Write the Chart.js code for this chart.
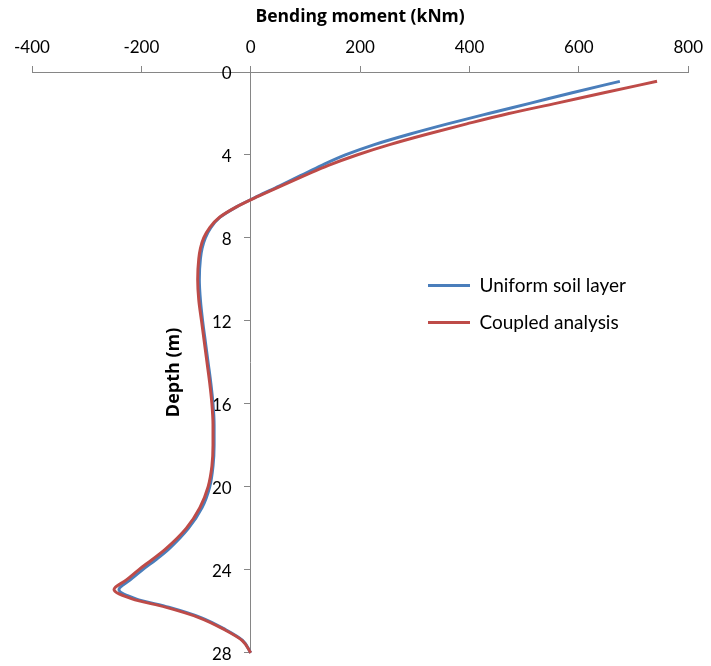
<!DOCTYPE html>
<html>
<head>
<meta charset="utf-8">
<script src="https://cdn.jsdelivr.net/npm/chart.js@4/dist/chart.umd.min.js"></script>
<style>
  html, body { margin: 0; padding: 0; background: #fff; }
  #wrap { width: 711px; height: 666px; }
</style>
</head>
<body>
<div id="wrap"><canvas id="c" width="711" height="666"></canvas></div>
<script>
// Depth below the pile head (m)
const depth = [0.45, 1, 1.5, 2, 2.5, 3, 3.5, 4, 4.5, 5, 5.5, 6, 6.5, 7, 7.5, 8, 8.5, 9,
  10, 11, 12, 13, 14, 15, 16, 17, 18, 19, 20, 21, 22, 23, 23.5, 24, 24.5, 24.95,
  25.4, 25.8, 26.3, 26.9, 27.4, 28];

// Bending moment (kNm) - uniform soil layer
const uniformMoment = [675, 588, 512, 435, 360, 290, 226, 173, 130, 91, 52, 12, -26, -56, -73, -83, -89, -92,
  -94, -92, -88, -83, -78, -73, -69, -67, -67, -69, -75, -89, -114, -150, -173, -198, -221, -241,
  -210, -150, -91, -45, -15, 0];

// Bending moment (kNm) - coupled analysis
const coupledMoment = [743, 646, 560, 472, 395, 322, 254, 194, 142, 98, 55, 13, -26, -57, -75, -86, -92, -95,
  -97, -95, -90, -85, -80, -75, -71, -69, -69, -71, -78, -93, -118, -156, -180, -205, -228, -250,
  -217, -156, -95, -47, -16, 0];

const seriesNames = ['Uniform soil layer', 'Coupled analysis'];
const seriesColors = ['#4A7EBB', '#BE4B48'];

const xTitle = 'Bending moment (kNm)';
const yTitle = 'Depth (m)';

const FONT = 'Lato';
const TITLE_FONT = 'Open Sans';
const AXIS_GREY = '#868686';

const toPoints = (vals) => vals.map((v, i) => ({ x: v, y: depth[i] }));

// Places the legend inside the plot, to the right of the curves
const legendPlacer = {
  id: 'legendPlacer',
  afterLayout(chart) {
    const lg = chart.legend;
    if (!lg) return;
    const w = lg.width;
    lg.left = 410;
    lg.top = 258;
    lg.right = lg.left + w;
    lg.height = 100;
    lg.bottom = lg.top + lg.height;
  }
};

// Rotated title for the depth axis, drawn beside the tick labels
const depthTitle = {
  id: 'depthTitle',
  afterDraw(chart) {
    const { ctx, scales: { x, y } } = chart;
    ctx.save();
    ctx.font = 'bold 18px "' + TITLE_FONT + '"';
    ctx.fillStyle = '#000';
    ctx.textAlign = 'center';
    ctx.textBaseline = 'middle';
    ctx.translate(x.getPixelForValue(0) - 77, (y.top + y.bottom) / 2 + 10);
    ctx.rotate(-Math.PI / 2);
    ctx.fillText(yTitle, 0, 0);
    ctx.restore();
  }
};

new Chart(document.getElementById('c'), {
  type: 'line',
  data: {
    datasets: [
      {
        label: seriesNames[0],
        data: toPoints(uniformMoment),
        borderColor: seriesColors[0],
        backgroundColor: seriesColors[0],
        order: 1
      },
      {
        label: seriesNames[1],
        data: toPoints(coupledMoment),
        borderColor: seriesColors[1],
        backgroundColor: seriesColors[1],
        order: 0
      }
    ]
  },
  options: {
    responsive: false,
    animation: false,
    indexAxis: 'y',
    layout: { padding: { left: 32, right: 19, top: 0, bottom: 13 } },
    elements: {
      line: { borderWidth: 3, cubicInterpolationMode: 'monotone', fill: false },
      point: { radius: 0, hoverRadius: 0 }
    },
    datasets: { line: { clip: false } },
    plugins: {
      tooltip: { enabled: false },
      legend: {
        position: 'chartArea',
        align: 'start',
        labels: {
          font: { family: FONT, size: 19 },
          color: '#000',
          boxWidth: 42,
          boxHeight: 3,
          padding: 18,
          sort: (a, b) => a.datasetIndex - b.datasetIndex,
          generateLabels: (chart) =>
            Chart.defaults.plugins.legend.labels.generateLabels(chart).map(item => ({
              ...item, lineWidth: 0, fillStyle: item.strokeStyle
            }))
        }
      }
    },
    scales: {
      x: {
        type: 'linear',
        position: 'top',
        min: -400,
        max: 800,
        ticks: { stepSize: 200, color: '#000', font: { family: FONT, size: 17 }, padding: 8 },
        grid: { drawOnChartArea: false, color: AXIS_GREY, tickLength: 6 },
        border: { color: AXIS_GREY, width: 1 },
        title: {
          display: true,
          text: xTitle,
          color: '#000',
          font: { family: TITLE_FONT, size: 17.5, weight: 'bold' },
          padding: { top: 7, bottom: 0 }
        },
        afterFit(scale) { scale.height = 72; }
      },
      y: {
        type: 'linear',
        position: { x: 0 },
        reverse: true,
        min: 0,
        max: 28,
        ticks: {
          stepSize: 4,
          color: '#000',
          font: { family: FONT, size: 17 },
          labelOffset: 2,
          // keep the labels clear of the axis line and its tick marks
          callback: (v) => v + '\u2002\u2002\u2009'
        },
        grid: { drawOnChartArea: false, color: AXIS_GREY, tickLength: 6 },
        border: { color: AXIS_GREY, width: 1 }
      }
    }
  },
  plugins: [legendPlacer, depthTitle]
});
</script>
</body>
</html>
